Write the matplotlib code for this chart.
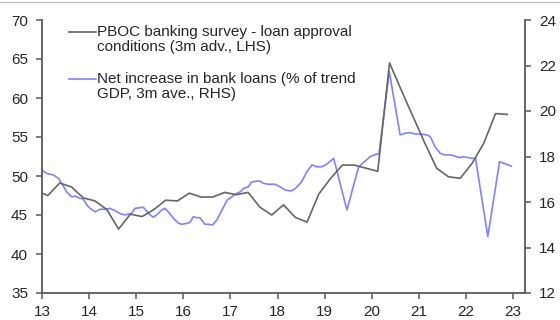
import matplotlib
matplotlib.use("Agg")
import matplotlib.pyplot as plt

plt.rcParams['font.family'] = ['Liberation Sans', 'DejaVu Sans']

# PBOC banking survey - loan approval conditions (quarterly, 3m advanced, LHS)
survey_x = [13.0, 13.125, 13.375, 13.625, 13.875, 14.125, 14.375, 14.625, 14.875,
            15.125, 15.375, 15.625, 15.875, 16.125, 16.375, 16.625, 16.875,
            17.125, 17.375, 17.625, 17.875, 18.125, 18.375, 18.625, 18.875,
            19.125, 19.375, 19.625, 19.875, 20.125, 20.375, 20.625, 20.875,
            21.125, 21.375, 21.625, 21.875, 22.125, 22.375, 22.625, 22.875]
survey_y = [47.8, 47.5, 49.1, 48.6, 47.2, 46.8, 45.7, 43.2, 45.1,
            44.8, 45.7, 46.9, 46.8, 47.8, 47.3, 47.3, 47.9,
            47.6, 47.9, 46.0, 45.0, 46.3, 44.7, 44.1, 47.7,
            49.7, 51.4, 51.4, 51.0, 50.6, 64.5, 61.0, 57.6,
            54.2, 51.0, 49.9, 49.7, 51.6, 54.2, 58.0, 57.9]

# Net increase in bank loans (% of trend GDP, 3m ave., RHS)
loans_x = [13.0, 13.09, 13.24, 13.35, 13.42, 13.52, 13.63, 13.70, 13.81, 13.88,
           13.95, 14.02, 14.13, 14.23, 14.34, 14.44, 14.55, 14.65, 14.76, 14.83,
           14.90, 14.97, 15.08, 15.15, 15.26, 15.36, 15.43, 15.54, 15.61, 15.68,
           15.79, 15.90, 15.97, 16.07, 16.14, 16.21, 16.28, 16.35, 16.46, 16.53,
           16.62, 16.71, 16.82, 16.93, 17.03, 17.10, 17.21, 17.28, 17.38, 17.44,
           17.55, 17.62, 17.70, 17.80, 17.94, 18.05, 18.16, 18.28, 18.38, 18.51,
           18.62, 18.73, 18.83, 18.94, 19.05, 19.19, 19.47, 19.72, 19.86, 19.96,
           20.10, 20.15, 20.37, 20.60, 20.70, 20.81, 20.92, 21.02, 21.17, 21.24,
           21.34, 21.45, 21.55, 21.66, 21.76, 21.87, 21.94, 22.04, 22.13, 22.20,
           22.46, 22.71, 22.96]
loans_y = [17.41, 17.26, 17.19, 17.04, 16.82, 16.45, 16.23, 16.26, 16.16, 16.12,
           15.87, 15.72, 15.57, 15.68, 15.68, 15.72, 15.62, 15.50, 15.43, 15.47,
           15.50, 15.72, 15.75, 15.77, 15.50, 15.33, 15.43, 15.65, 15.72, 15.57,
           15.28, 15.06, 15.02, 15.06, 15.10, 15.35, 15.31, 15.31, 15.02, 15.02,
           14.99, 15.21, 15.65, 16.09, 16.23, 16.34, 16.45, 16.60, 16.67, 16.87,
           16.92, 16.92, 16.82, 16.78, 16.78, 16.67, 16.53, 16.48, 16.60, 16.89,
           17.33, 17.63, 17.55, 17.55, 17.67, 17.92, 15.65, 17.55, 17.80, 17.99,
           18.11, 18.10, 21.73, 18.95, 19.02, 19.05, 18.99, 18.99, 18.95, 18.87,
           18.43, 18.14, 18.07, 18.07, 18.02, 17.95, 17.99, 17.95, 17.92, 17.92,
           14.48, 17.77, 17.58]

year_ticks = list(range(13, 24))
left_ticks = [35, 40, 45, 50, 55, 60, 65, 70]
right_ticks = [12, 14, 16, 18, 20, 22, 24]

W, H = 560, 320
fig = plt.figure(figsize=(W / 100, H / 100), dpi=100)
ax = fig.add_axes([42 / W, 1 - 293 / H, 483 / W, 273 / H])
ax2 = ax.twinx()

axis_col = '#595959'
gray_col = '#666666'
blue_col = '#8282ff'

ax2.plot(loans_x, loans_y, color=blue_col, lw=1.2, zorder=2)
ax.plot(survey_x, survey_y, color=gray_col, lw=1.2, zorder=3)
ax.set_zorder(ax2.get_zorder() + 1)
ax.patch.set_visible(False)

ax.set_xlim(13, 23.25)
ax.set_ylim(35, 70)
ax2.set_ylim(12, 24)
ax.set_xticks(year_ticks)
ax.set_xticklabels([str(y) for y in year_ticks])
ax.set_yticks(left_ticks)
ax2.set_yticks(right_ticks)

for a in (ax, ax2):
    a.spines['top'].set_visible(False)
    for s in ('left', 'right', 'bottom'):
        a.spines[s].set_color(axis_col)
        a.spines[s].set_linewidth(1.3)
    a.tick_params(colors=axis_col, labelcolor='#262626', labelsize=11,
                  width=1.1, length=4, pad=6)
ax.spines['right'].set_visible(False)
ax2.spines['left'].set_visible(False)
ax2.spines['bottom'].set_visible(False)
ax.tick_params(axis='x', pad=5)

# legend drawn by hand so the handles sit on the first text line
def fx(px):
    return px / W

def fy(py):
    return 1 - py / H

entries = [(32, gray_col, 'PBOC banking survey - loan approval\nconditions (3m adv., LHS)'),
           (79, blue_col, 'Net increase in bank loans (% of trend\nGDP, 3m ave., RHS)')]
for py, col, label in entries:
    fig.add_artist(plt.Line2D([fx(69), fx(96)], [fy(py), fy(py)], color=col, lw=1.2))
    fig.text(fx(97), fy(py - 7), label, fontsize=11, color='#262626',
             va='top', ha='left', linespacing=1.05)

# thin frame line at the top of the figure
fig.add_artist(plt.Line2D([0, 1], [fy(1.5), fy(1.5)], color='#bfbfbf', lw=1))

fig.savefig('out.png', dpi=100)
